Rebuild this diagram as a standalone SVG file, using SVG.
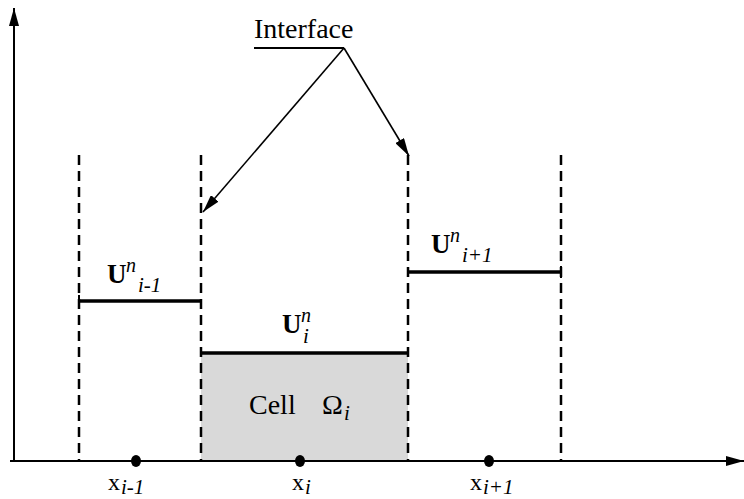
<svg xmlns="http://www.w3.org/2000/svg" width="744" height="499" viewBox="0 0 744 499">
<style>
text{font-family:"Liberation Serif","Times New Roman",serif;fill:#000}
.dash{stroke:#000;stroke-width:2.5;stroke-dasharray:10,6;fill:none}
.lvl{stroke:#000;stroke-width:3.5;fill:none}
.ax{stroke:#000;stroke-width:2;fill:none}
.ar{stroke:#000;stroke-width:1.6;fill:none}
.U{font-weight:bold;font-size:27px}
.sup{font-style:italic;font-size:20px}
.sub{font-style:italic;font-size:21px}
</style>
<defs>
<marker id="ah2" viewBox="0 0 18 10" refX="18" refY="5" markerWidth="18" markerHeight="10" markerUnits="userSpaceOnUse" orient="auto"><path d="M0,0 L18,5 L0,10 Z" fill="#000"/></marker>
</defs>
<g id="cell">
<rect x="201" y="353" width="207" height="108" fill="#d9d9d9"/>
<text x="249" y="414" font-size="28">Cell</text>
<text x="322" y="414" font-size="28">Ω</text>
<text x="344" y="420" class="sub" font-size="20">i</text>
</g>
<g id="axes">
<line class="ax" x1="14" y1="462" x2="14" y2="8" marker-end="url(#ah2)"/>
<line class="ax" x1="10" y1="461" x2="744" y2="461" marker-end="url(#ah2)"/>
</g>
<g id="interfaces">
<line class="dash" x1="79" y1="155" x2="79" y2="461"/>
<line class="dash" x1="201" y1="155" x2="201" y2="461"/>
<line class="dash" x1="408" y1="155" x2="408" y2="461"/>
<line class="dash" x1="561" y1="155" x2="561" y2="461"/>
</g>
<g id="levels">
<line class="lvl" x1="79" y1="301" x2="201" y2="301"/>
<line class="lvl" x1="201" y1="353" x2="408" y2="353"/>
<line class="lvl" x1="408" y1="272" x2="561" y2="272"/>
<line stroke="#000" stroke-width="2" x1="79" y1="295" x2="79" y2="307"/>
<line stroke="#000" stroke-width="2" x1="561" y1="266" x2="561" y2="278"/>
</g>
<g id="label-u-im1">
<text x="107" y="283" class="U">U</text>
<text x="126" y="272" class="sup">n</text>
<text x="138" y="292" class="sub">i-1</text>
</g>
<g id="label-u-i">
<text x="282" y="333" class="U">U</text>
<text x="301" y="322" class="sup">n</text>
<text x="303" y="343" class="sub">i</text>
</g>
<g id="label-u-ip1">
<text x="431" y="253" class="U">U</text>
<text x="450" y="242" class="sup">n</text>
<text x="462" y="262" class="sub">i+1</text>
</g>
<g id="interface-label">
<text x="254" y="38" font-size="28">Interface</text>
</g>
<g id="connectors">
<line stroke="#000" stroke-width="2" x1="254" y1="48" x2="344" y2="48"/>
<line class="ar" x1="344" y1="48" x2="203" y2="212" marker-end="url(#ah2)"/>
<line class="ar" x1="344" y1="48" x2="409" y2="156" marker-end="url(#ah2)"/>
</g>
<g id="points">
<ellipse cx="136" cy="461" rx="5" ry="6"/>
<ellipse cx="300" cy="461" rx="5" ry="6"/>
<ellipse cx="489" cy="461" rx="5" ry="6"/>
<text x="108" y="490" font-size="24">x</text>
<text x="121" y="494" class="sub" font-size="19">i-1</text>
<text x="292" y="490" font-size="24">x</text>
<text x="305" y="494" class="sub" font-size="19">i</text>
<text x="470" y="490" font-size="24">x</text>
<text x="483" y="494" class="sub" font-size="19">i+1</text>
</g>
</svg>
